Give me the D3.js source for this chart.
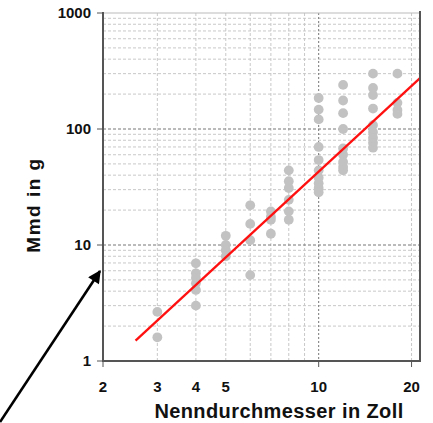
<!DOCTYPE html>
<html><head><meta charset="utf-8">
<script src="https://cdn.jsdelivr.net/npm/d3@7"></script>
<style>html,body{margin:0;padding:0;background:#fff;}svg{display:block;font-family:"Liberation Sans",Arial,sans-serif;}</style>
</head><body>
<svg id="chart" width="433" height="423"></svg>
<script>
// Nominal diameter (inch) columns and the measured masses (g) at each
const diameters = [3, 4, 5, 6, 7, 8, 10, 12, 15, 18];
const massesAt3  = [2.65, 1.6];
const massesAt4  = [6.95, 5.7, 5.2, 4.67, 4.1, 3.0];
const massesAt5  = [12, 10, 9, 8];
const massesAt6  = [22, 15.2, 11, 5.5];
const massesAt7  = [19.5, 17.5, 16.5, 12.5];
const massesAt8  = [44, 35.5, 31, 24.5, 19.5, 16.5];
const massesAt10 = [185, 147, 121, 70, 54, 44, 38, 34, 31, 28.5];
const massesAt12 = [240, 176, 137, 100, 68, 60, 52, 47, 44];
const massesAt15 = [300, 226, 196, 150, 108, 94, 84, 76, 69];
const massesAt18 = [300, 168, 146, 135];
const massColumns = [massesAt3, massesAt4, massesAt5, massesAt6, massesAt7, massesAt8, massesAt10, massesAt12, massesAt15, massesAt18];
// Regression line (power law) endpoints
const fitX = [2.55, 21.3];
const fitY = [1.5, 275];
// Tick labels
const xTicks = [2, 3, 4, 5, 10, 20];
const yTicks = [1, 10, 100, 1000];
const xMinorGrid = [3, 4, 5, 6, 7, 8, 9, 20];
const xMajorGrid = [10];
const yMinorGrid = [2,3,4,5,6,7,8,9,20,30,40,50,60,70,80,90,200,300,400,500,600,700,800,900];
const yMajorGrid = [10, 100];

const svg = d3.select("#chart");
const L = 103, R = 420, T = 13, B = 361;
const x = d3.scaleLog().domain([2, 21.3]).range([L, R]);
const y = d3.scaleLog().domain([1, 1000]).range([B, T]);

const g = svg.append("g");
// grid
g.selectAll(".hmin").data(yMinorGrid).enter().append("line")
  .attr("x1", L).attr("x2", R).attr("y1", d => y(d)).attr("y2", d => y(d))
  .attr("stroke", "#c8c8c8").attr("stroke-width", 1).attr("stroke-dasharray", "3,2");
g.selectAll(".vmin").data(xMinorGrid).enter().append("line")
  .attr("y1", T).attr("y2", B).attr("x1", d => x(d)).attr("x2", d => x(d))
  .attr("stroke", "#c8c8c8").attr("stroke-width", 1).attr("stroke-dasharray", "3,2");
g.selectAll(".hmaj").data(yMajorGrid).enter().append("line")
  .attr("x1", L).attr("x2", R).attr("y1", d => y(d)).attr("y2", d => y(d))
  .attr("stroke", "#777").attr("stroke-width", 1).attr("stroke-dasharray", "3,2");
g.selectAll(".vmaj").data(xMajorGrid).enter().append("line")
  .attr("y1", T).attr("y2", B).attr("x1", d => x(d)).attr("x2", d => x(d))
  .attr("stroke", "#777").attr("stroke-width", 1).attr("stroke-dasharray", "2,2");
// top border
g.append("line").attr("x1", L).attr("x2", R).attr("y1", y(1000)).attr("y2", y(1000))
  .attr("stroke", "#bbb").attr("stroke-width", 1);

// points
const pts = [];
diameters.forEach((d, i) => massColumns[i].forEach(m => pts.push([d, m])));
g.selectAll(".pt").data(pts).enter().append("circle")
  .attr("cx", d => x(d[0])).attr("cy", d => y(d[1])).attr("r", 4.9)
  .attr("fill", "#c2c2c2");

// fit line
g.append("path").datum(fitX.map((v, i) => [v, fitY[i]]))
  .attr("d", d3.line().x(d => x(d[0])).y(d => y(d[1])))
  .attr("stroke", "#ff1010").attr("stroke-width", 2.3).attr("fill", "none");

// axes
const ax = "#555";
g.append("line").attr("x1", L).attr("x2", L).attr("y1", T - 1).attr("y2", B + 1).attr("stroke", ax).attr("stroke-width", 2);
g.append("line").attr("x1", R).attr("x2", R).attr("y1", T - 2).attr("y2", B + 1).attr("stroke", ax).attr("stroke-width", 2);
g.append("line").attr("x1", L).attr("x2", R + 1).attr("y1", B).attr("y2", B).attr("stroke", ax).attr("stroke-width", 2);
g.selectAll(".yt").data(yTicks).enter().append("line")
  .attr("x1", L - 6).attr("x2", L).attr("y1", d => y(d)).attr("y2", d => y(d)).attr("stroke", ax).attr("stroke-width", 1);
g.selectAll(".xt").data([2, 10, 20]).enter().append("line")
  .attr("x1", d => x(d)).attr("x2", d => x(d)).attr("y1", B).attr("y2", B + 6).attr("stroke", ax).attr("stroke-width", 1);

// tick labels
g.selectAll(".yl").data(yTicks).enter().append("text")
  .attr("x", 91).attr("y", d => y(d)).attr("dy", "0.36em").attr("text-anchor", "end")
  .attr("font-size", 15).attr("font-weight", "bold").attr("fill", "#111").text(d => d);
g.selectAll(".xl").data(xTicks).enter().append("text")
  .attr("x", d => x(d)).attr("y", 387).attr("dy", "0.36em").attr("text-anchor", "middle")
  .attr("font-size", 15).attr("font-weight", "bold").attr("fill", "#111").text(d => d);

// titles
svg.append("text").attr("x", 279).attr("y", 411).attr("dy", "0.36em").attr("text-anchor", "middle")
  .attr("font-size", 20).attr("letter-spacing", 0.4).attr("font-weight", "bold").attr("fill", "#111").text("Nenndurchmesser in Zoll");
svg.append("text").attr("transform", "translate(33,205) rotate(-90)").attr("dy", "0.36em").attr("text-anchor", "middle")
  .attr("font-size", 19).attr("letter-spacing", 1.5).attr("font-weight", "bold").attr("fill", "#111").text("Mmd in g");

// arrow
const defs = svg.append("defs");
defs.append("marker").attr("id", "ah").attr("viewBox", "0 0 10 10").attr("refX", 9).attr("refY", 5)
  .attr("markerWidth", 5.5).attr("markerHeight", 5).attr("orient", "auto").attr("markerUnits", "strokeWidth")
  .append("path").attr("d", "M0,0 L10,5 L0,10 z").attr("fill", "#000");
svg.append("line").attr("x1", 0).attr("y1", 422).attr("x2", 100).attr("y2", 271)
  .attr("stroke", "#000").attr("stroke-width", 2.6).attr("marker-end", "url(#ah)");
</script>
</body></html>
